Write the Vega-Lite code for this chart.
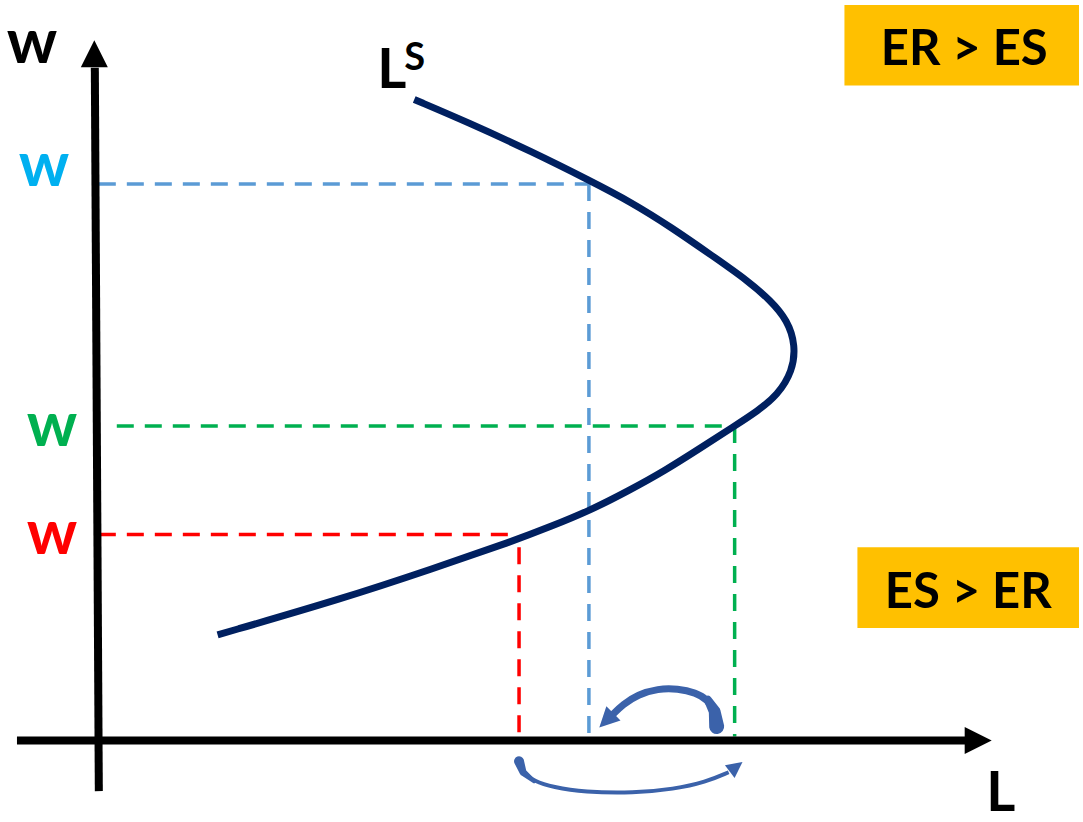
{
  "$schema": "https://vega.github.io/schema/vega-lite/v6.json",
  "width": 1083,
  "height": 822,
  "padding": 0,
  "autosize": {"type": "fit", "contains": "padding"},
  "background": "white",
  "config": {"view": {"stroke": null}},
  "datasets": {
    "curve": [
      {"i": 0, "L": 3.18, "w": 6.43}, {"i": 1, "L": 3.72, "w": 6.20}, {"i": 2, "L": 4.35, "w": 5.91},
      {"i": 3, "L": 4.95, "w": 5.61}, {"i": 4, "L": 5.35, "w": 5.40}, {"i": 5, "L": 5.75, "w": 5.15},
      {"i": 6, "L": 6.18, "w": 4.85}, {"i": 7, "L": 6.52, "w": 4.61}, {"i": 8, "L": 6.75, "w": 4.41},
      {"i": 9, "L": 6.92, "w": 4.21}, {"i": 10, "L": 7.00, "w": 3.96}, {"i": 11, "L": 6.97, "w": 3.70},
      {"i": 12, "L": 6.82, "w": 3.46}, {"i": 13, "L": 6.62, "w": 3.30}, {"i": 14, "L": 6.39, "w": 3.15},
      {"i": 15, "L": 6.05, "w": 2.93}, {"i": 16, "L": 5.69, "w": 2.70}, {"i": 17, "L": 5.33, "w": 2.50},
      {"i": 18, "L": 4.94, "w": 2.30}, {"i": 19, "L": 4.55, "w": 2.14}, {"i": 20, "L": 4.19, "w": 2.00},
      {"i": 21, "L": 3.35, "w": 1.71}, {"i": 22, "L": 2.48, "w": 1.42}, {"i": 23, "L": 1.21, "w": 1.05}
    ],
    "axes": [
      {"seg": "v", "i": 0, "L": 0.02, "w": -0.52}, {"seg": "v", "i": 1, "L": -0.02, "w": 6.75},
      {"seg": "h", "i": 0, "L": -0.80, "w": -0.01}, {"seg": "h", "i": 1, "L": 8.70, "w": -0.01}
    ],
    "guides": [
      {"seg": "hh", "level": "high", "i": 0, "L": 0.02, "w": 5.58}, {"seg": "hh", "level": "high", "i": 1, "L": 4.93, "w": 5.58},
      {"seg": "hv", "level": "high", "i": 0, "L": 4.93, "w": 5.58}, {"seg": "hv", "level": "high", "i": 1, "L": 4.93, "w": 0.03},
      {"seg": "mh", "level": "mid", "i": 0, "L": 0.20, "w": 3.15}, {"seg": "mh", "level": "mid", "i": 1, "L": 6.39, "w": 3.15},
      {"seg": "mv", "level": "mid", "i": 0, "L": 6.39, "w": 3.15}, {"seg": "mv", "level": "mid", "i": 1, "L": 6.39, "w": 0.03},
      {"seg": "lh", "level": "low", "i": 0, "L": 0.02, "w": 2.06}, {"seg": "lh", "level": "low", "i": 1, "L": 4.19, "w": 2.06},
      {"seg": "lv", "level": "low", "i": 0, "L": 4.23, "w": 1.93}, {"seg": "lv", "level": "low", "i": 1, "L": 4.23, "w": 0.03}
    ],
    "upperArrow": [
      {"t": 0, "L": 6.21, "w": 0.13}, {"t": 0.1, "L": 6.19, "w": 0.28}, {"t": 0.22, "L": 6.12, "w": 0.40},
      {"t": 0.35, "L": 6.00, "w": 0.47}, {"t": 0.48, "L": 5.82, "w": 0.51}, {"t": 0.6, "L": 5.62, "w": 0.51},
      {"t": 0.72, "L": 5.42, "w": 0.45}, {"t": 0.85, "L": 5.27, "w": 0.35}, {"t": 1, "L": 5.17, "w": 0.25}
    ],
    "lowerArrow": [
      {"t": 0, "L": 4.23, "w": -0.22}, {"t": 0.1, "L": 4.27, "w": -0.33}, {"t": 0.2, "L": 4.38, "w": -0.42},
      {"t": 0.3, "L": 4.57, "w": -0.48}, {"t": 0.42, "L": 4.88, "w": -0.53}, {"t": 0.6, "L": 5.38, "w": -0.54},
      {"t": 0.74, "L": 5.78, "w": -0.50}, {"t": 0.87, "L": 6.10, "w": -0.43}, {"t": 1, "L": 6.33, "w": -0.33}
    ],
    "boxes": [
      {"L": 7.49, "L2": 9.84, "w": 7.38, "w2": 6.57},
      {"L": 7.62, "L2": 9.84, "w": 1.93, "w2": 1.12}
    ],
    "boxText": [
      {"text": "ER > ES", "L": 8.69, "w": 6.78},
      {"text": "ES > ER", "L": 8.73, "w": 1.32}
    ],
    "wLabels": [
      {"text": "w", "tone": "axis", "L": -0.65, "w": 6.80},
      {"text": "w", "tone": "high", "L": -0.53, "w": 5.56},
      {"text": "w", "tone": "mid", "L": -0.45, "w": 2.95},
      {"text": "w", "tone": "low", "L": -0.45, "w": 1.86}
    ],
    "bigL": [
      {"text": "L", "L": 2.81, "w": 6.55},
      {"text": "L", "L": 8.91, "w": -0.72}
    ],
    "supS": [
      {"text": "S", "L": 3.08, "w": 6.73}
    ]
  },
  "encoding": {
    "x": {"field": "L", "type": "quantitative", "scale": {"domain": [-0.95, 9.88], "nice": false, "zero": false}, "axis": null},
    "y": {"field": "w", "type": "quantitative", "scale": {"domain": [-0.79, 7.43], "nice": false, "zero": false}, "axis": null}
  },
  "resolve": {"scale": {"color": "independent", "size": "independent"}},
  "layer": [
    {
      "data": {"name": "boxes"},
      "mark": {"type": "rect", "color": "#FFC000"},
      "encoding": {"x2": {"field": "L2"}, "y2": {"field": "w2"}}
    },
    {
      "data": {"name": "guides"},
      "mark": {"type": "line", "strokeWidth": 3.5, "strokeDash": [17, 11], "strokeCap": "butt"},
      "encoding": {
        "detail": {"field": "seg"},
        "order": {"field": "i"},
        "color": {"field": "level", "type": "nominal", "scale": {"domain": ["high", "mid", "low"], "range": ["#5B9BD5", "#00B050", "#FF0000"]}, "legend": null}
      }
    },
    {
      "data": {"name": "axes"},
      "mark": {"type": "line", "strokeWidth": 8, "color": "black", "strokeCap": "butt"},
      "encoding": {"detail": {"field": "seg"}, "order": {"field": "i"}}
    },
    {
      "data": {"values": [{"L": -0.025, "w": 6.89}]},
      "mark": {"type": "point", "shape": "M0,-1L1,1L-1,1Z", "filled": true, "opacity": 1, "color": "black", "size": 729, "angle": 0, "strokeWidth": 0}
    },
    {
      "data": {"values": [{"L": 8.83, "w": -0.01}]},
      "mark": {"type": "point", "shape": "M0,-1L1,1L-1,1Z", "filled": true, "opacity": 1, "color": "black", "size": 729, "angle": 90, "strokeWidth": 0}
    },
    {
      "data": {"name": "curve"},
      "mark": {"type": "line", "strokeWidth": 7, "color": "#002060", "interpolate": "basis", "strokeCap": "butt"},
      "encoding": {"order": {"field": "i"}}
    },
    {
      "data": {"name": "upperArrow"},
      "mark": {"type": "line", "color": "#3B62AA", "strokeWidth": 7, "interpolate": "basis", "strokeCap": "butt"},
      "encoding": {"order": {"field": "t"}}
    },
    {
      "data": {"name": "upperArrow"},
      "transform": [{"filter": "datum.t <= 0.22"}],
      "mark": {"type": "trail", "color": "#3B62AA"},
      "encoding": {
        "order": {"field": "t"},
        "size": {"field": "t", "type": "quantitative", "scale": {"domain": [0, 0.22], "range": [15, 8]}, "legend": null}
      }
    },
    {
      "data": {"values": [{"L": 5.105, "w": 0.19}]},
      "mark": {"type": "point", "shape": "M0,-1L1,1L-1,1Z", "filled": true, "opacity": 1, "color": "#3B62AA", "size": 400, "angle": 225, "strokeWidth": 0}
    },
    {
      "data": {"name": "lowerArrow"},
      "mark": {"type": "line", "color": "#3B62AA", "strokeWidth": 4, "interpolate": "basis", "strokeCap": "butt"},
      "encoding": {"order": {"field": "t"}}
    },
    {
      "data": {"name": "lowerArrow"},
      "transform": [{"filter": "datum.t <= 0.2"}],
      "mark": {"type": "trail", "color": "#3B62AA"},
      "encoding": {
        "order": {"field": "t"},
        "size": {"field": "t", "type": "quantitative", "scale": {"domain": [0, 0.2], "range": [10, 4]}, "legend": null}
      }
    },
    {
      "data": {"values": [{"L": 6.405, "w": -0.275}]},
      "mark": {"type": "point", "shape": "M0,-1L1,1L-1,1Z", "filled": true, "opacity": 1, "color": "#3B62AA", "size": 256, "angle": 53, "strokeWidth": 0}
    },
    {
      "data": {"name": "boxText"},
      "mark": {"type": "text", "font": "Lato", "fontWeight": "bold", "fontSize": 49, "align": "center", "baseline": "alphabetic", "color": "black"},
      "encoding": {"text": {"field": "text"}}
    },
    {
      "data": {"name": "wLabels"},
      "mark": {"type": "text", "font": "Lato", "fontWeight": "bold", "fontSize": 63, "align": "center", "baseline": "alphabetic"},
      "encoding": {
        "text": {"field": "text"},
        "color": {"field": "tone", "type": "nominal", "scale": {"domain": ["axis", "high", "mid", "low"], "range": ["#000000", "#00B0F0", "#00B050", "#FF0000"]}, "legend": null}
      }
    },
    {
      "data": {"name": "bigL"},
      "mark": {"type": "text", "font": "Lato", "fontWeight": "bold", "fontSize": 56, "align": "left", "baseline": "alphabetic", "color": "black"},
      "encoding": {"text": {"field": "text"}}
    },
    {
      "data": {"name": "supS"},
      "mark": {"type": "text", "font": "Lato", "fontWeight": "bold", "fontSize": 38, "align": "left", "baseline": "alphabetic", "color": "black"},
      "encoding": {"text": {"field": "text"}}
    }
  ]
}
